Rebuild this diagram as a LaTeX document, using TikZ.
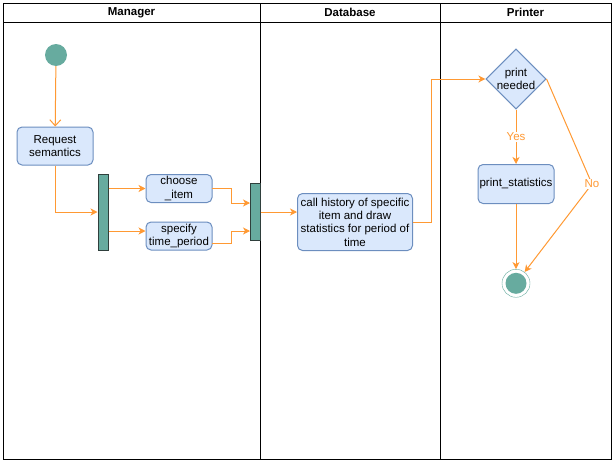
\documentclass[tikz,border=0pt]{standalone}
\usepackage{fontspec}
\setmainfont{Liberation Sans}
\usetikzlibrary{arrows.meta,shapes.geometric}
\definecolor{flow}{HTML}{FF9933}
\definecolor{boxfill}{HTML}{DAE8FC}
\definecolor{boxline}{HTML}{6C8EBF}
\definecolor{node green}{HTML}{67AB9F}
\definecolor{bar line}{HTML}{2F3F3C}

\tikzset{
  txt/.style={font=\fontsize{11.5}{13.3}\selectfont, align=center},
  action/.style={txt, draw=boxline, fill=boxfill, rounded corners=5pt,
                 inner sep=0pt, line width=1pt},
  decision/.style={txt, diamond, aspect=1, draw=boxline, fill=boxfill,
                   inner sep=0pt, line width=1pt},
  bar/.style={draw=bar line, fill=node green, minimum width=10pt,
              inner sep=0pt, line width=1pt},
  flow/.style={draw=flow, line width=1pt,
               -{Stealth[length=7pt,width=7pt,inset=2pt]}},
  startflow/.style={draw=flow, line width=1pt,
               -{Straight Barb[length=6pt,width=11pt]}},
  guard/.style={txt, text=flow, fill=white, inner sep=1pt},
  lane/.style={draw=black, line width=1pt},
  head/.style={font=\fontsize{11.5}{13}\bfseries\selectfont}
}

\begin{document}
\begin{tikzpicture}[x=1pt, y=-1pt]
  \useasboundingbox (0,0) rectangle (615,463);

  % swimlanes
  \draw[lane] (3,3) rectangle (611,459);
  \draw[lane] (3,22) -- (611,22);
  \draw[lane] (260,3) -- (260,459);
  \draw[lane] (440,3) -- (440,459);
  \node[head] (hMgr) at (131.5,12.5) {Manager};
  \node[head] (hDb)  at (350,12.5) {Database};
  \node[head] (hPr)  at (525.5,12.5) {Printer};

  % Manager lane
  \node[circle, fill=node green, minimum size=22pt, inner sep=0pt] (start) at (56,55) {};
  \node[action, minimum width=76pt, minimum height=38pt] (req) at (55,146) {Request\\semantics};
  \node[bar, minimum height=76pt] (fork) at (103,212) {};
  \node[action, minimum width=66pt, minimum height=28pt] (choose) at (179,188.5) {choose\\\_item};
  \node[action, minimum width=66pt, minimum height=28pt] (spec) at (179,236) {specify\\time\_period};
  \node[bar, minimum height=57pt] (join) at (255,212) {};

  % Database lane
  \node[action, minimum width=115pt, minimum height=57pt] (call) at (355,222)
       {call history of specific\\item and draw\\statistics for period of\\time};

  % Printer lane
  \node[decision, minimum width=57pt, minimum height=57pt] (dec) at (516,79) {print\\needed};
  \node[action, minimum width=76pt, minimum height=39pt] (pstat) at (516,184) {print\_statistics};
  \node[circle, draw=node green, fill=white, minimum size=28pt, inner sep=0pt] (end) at (516,283.3) {};
  \node[circle, fill=node green, minimum size=21pt, inner sep=0pt] (endIn) at (516,283.3) {};

  % waypoints
  \coordinate (cOut) at (212,188.5);
  \coordinate (sOut) at (212,243);
  \coordinate (jIn1) at (250,203);
  \coordinate (jIn2) at (250,231);
  \coordinate (cBend) at (431,222);
  \coordinate (noPt) at (592,184);

  % control flow
  \draw[startflow] (start) -- (req);
  \draw[flow] (req.south) |- (fork.west);
  \draw[flow] (fork.east |- choose.west) -- (choose.west);
  \draw[flow] (fork.east |- 0,231) -- (spec.west |- 0,231);
  \draw[flow] (cOut) -- (231,188.5) |- (jIn1);
  \draw[flow] (sOut) -- (231,243) |- (jIn2);
  \draw[flow] (join.east) -- (call.west |- join.east);
  \draw[flow] (call.east) -- (cBend) |- (dec.west);
  \draw[flow] (dec.south) -- node[guard] (yes) {Yes} (pstat.north);
  \draw[flow] (pstat.south) -- (end.north);
  \draw[draw=flow, line width=1pt] (dec.east) -- (noPt);
  \draw[flow] (noPt) -- (end);
  \node[guard] (no) at (noPt) {No};
\end{tikzpicture}
\end{document}
